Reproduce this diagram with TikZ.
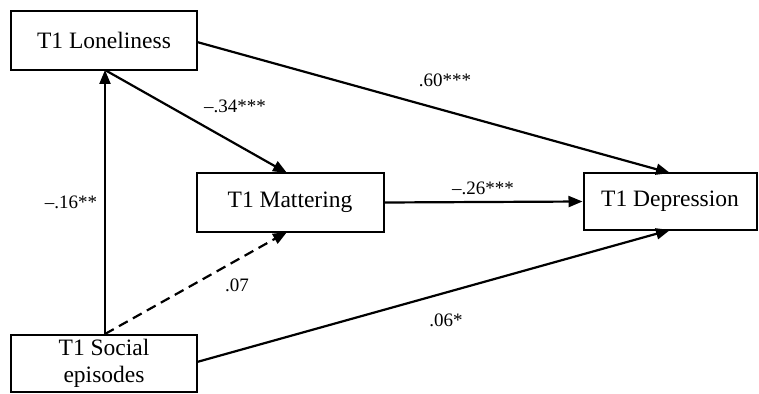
\documentclass[tikz,border=0pt]{standalone}
\usepackage{fontspec}
\setmainfont{Liberation Serif}
\usetikzlibrary{arrows.meta}
\begin{document}
\begin{tikzpicture}[x=1pt,y=-1pt,
  boxnode/.style={draw,line width=2pt,inner sep=0pt,font=\fontsize{23.5}{27}\selectfont,align=center},
  conn/.style={line width=2.2pt,-{Triangle[length=14pt,width=11pt]}},
  lbl/.style={font=\fontsize{19}{21}\selectfont,inner sep=0pt}]
\useasboundingbox (0,0) rectangle (759,393);
\node[boxnode,minimum width=186pt,minimum height=59pt] (lon) at (104,40.5) {T1 Loneliness};
\node[boxnode,minimum width=187pt,minimum height=59pt] (mat) at (290,202.5) {T1 Mattering};
\node[boxnode,minimum width=173pt,minimum height=57pt] (dep) at (670,201.5) {T1 Depression};
\node[boxnode,minimum width=186pt,minimum height=57pt] (soc) at (104,363) {T1 Social\\episodes};
\coordinate (lonb) at (105,70);
\coordinate (socb) at (105,334);
\coordinate (matt) at (287,173);
\coordinate (matb) at (287,232);
\coordinate (dept) at (670,173);
\coordinate (depb) at (670,230);
\coordinate (lonr) at (197,42);
\coordinate (socr) at (197,362);
\draw[conn] (socb) -- (lonb);
\draw[conn] (lonb) -- (matt);
\draw[conn,dashed,dash pattern=on 10pt off 6pt] (socb) -- (matb);
\draw[conn] (lonr) -- (dept);
\draw[conn] (socr) -- (depb);
\draw[conn] (mat.east) -- (dep.west);
\node[lbl] (l1) at (71,202) {–.16**};
\node[lbl] (l2) at (235,106) {–.34***};
\node[lbl] (l3) at (445,80) {.60***};
\node[lbl] (l4) at (483,188) {–.26***};
\node[lbl] (l5) at (237,285) {.07};
\node[lbl] (l6) at (446,320) {.06*};
\end{tikzpicture}
\end{document}
